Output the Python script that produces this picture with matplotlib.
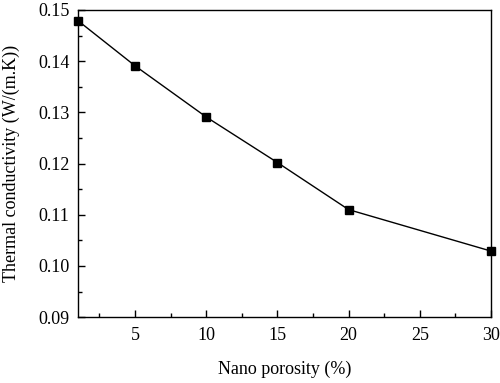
import matplotlib
matplotlib.use("Agg")
import matplotlib.pyplot as plt
from matplotlib.ticker import MultipleLocator

porosity = [1, 5, 10, 15, 20, 30]
conductivity = [0.1479, 0.1391, 0.1291, 0.1202, 0.1110, 0.1029]

plt.rcParams['font.family'] = ['Liberation Serif', 'DejaVu Serif']

fig = plt.figure(figsize=(5, 3.83), dpi=100)
ax = fig.add_axes([0.156, 0.172, 0.826, 0.802])
ax.plot(porosity, conductivity, color='black', lw=1.0, marker='s', ms=6, mfc='black', mec='black', clip_on=False, zorder=3)
ax.set_xlim(1, 30)
ax.set_ylim(0.09, 0.15)
ax.xaxis.set_major_locator(MultipleLocator(5))
ax.xaxis.set_minor_locator(MultipleLocator(2.5))
ax.yaxis.set_minor_locator(MultipleLocator(0.005))
ax.set_yticks([0.09, 0.10, 0.11, 0.12, 0.13, 0.14, 0.15])
ax.set_yticklabels(['0.09', '0.10', '0.11', '0.12', '0.13', '0.14', '0.15'])
ax.tick_params(which='both', direction='in', labelsize=13, top=False, right=False)
ax.tick_params(axis='x', which='major', pad=7)
ax.tick_params(axis='y', which='major', pad=6)
ax.tick_params(which='major', length=5, width=1)
ax.tick_params(which='minor', length=3, width=1)
for s in ax.spines.values():
    s.set_linewidth(1.0)
ax.set_xlabel('Nano porosity (%)', fontsize=13, labelpad=12)
ax.set_ylabel('Thermal conductivity (W/(m.K))', fontsize=13, labelpad=13)
fig.savefig('out.png', dpi=100)
